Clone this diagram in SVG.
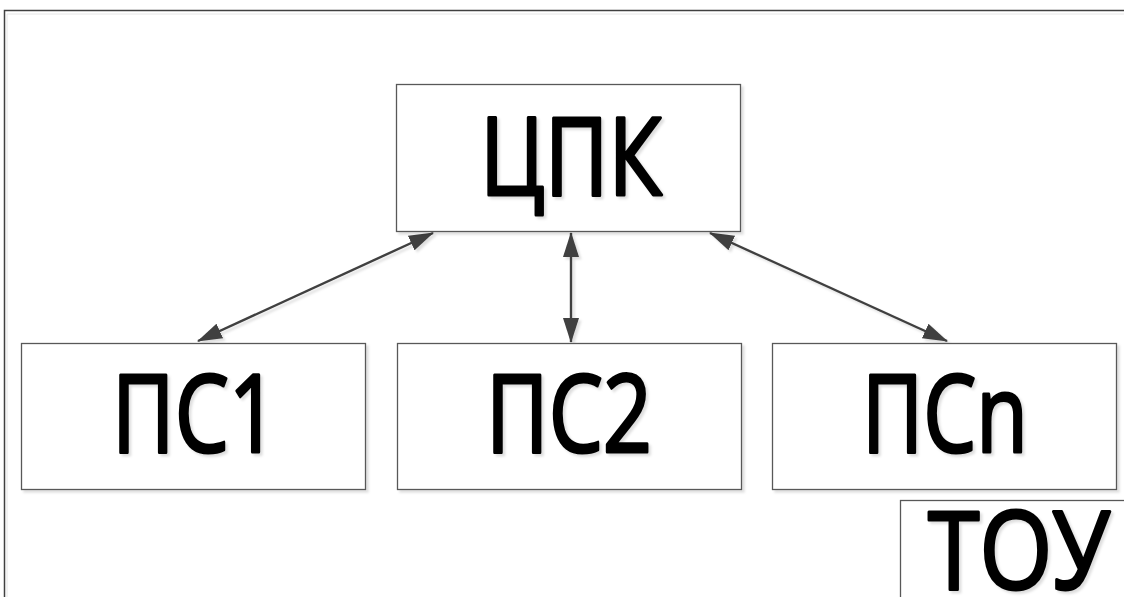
<svg xmlns="http://www.w3.org/2000/svg" width="1124" height="597" viewBox="0 0 1124 597">
  <style>
    .box { fill: #ffffff; stroke: #595959; stroke-width: 1.3; }
    .lbl { font-family: "Open Sans", "Liberation Sans", sans-serif; font-size: 108px; fill: #000000; stroke: #000000; stroke-width: 3; stroke-linejoin: round; text-anchor: middle; }
    .link { stroke: #404040; stroke-width: 2.4; fill: none; marker-start: url(#head); marker-end: url(#head); }
  </style>
  <defs>
    <filter id="soft" x="-10%" y="-10%" width="130%" height="130%">
      <feDropShadow dx="2.5" dy="2.5" stdDeviation="1" flood-color="#000000" flood-opacity="0.13"/>
    </filter>
    <marker id="head" viewBox="0 0 25 16" refX="24" refY="8" markerWidth="25" markerHeight="16" markerUnits="userSpaceOnUse" orient="auto-start-reverse">
      <path d="M0,0 L25,8 L0,16 Z" fill="#404040"/>
    </marker>
  </defs>

  <rect width="1124" height="597" fill="#ffffff"/>

  <!-- outer sheet frame -->
  <g id="frame">
    <path d="M4.5,597 V10.5 H1124" fill="none" stroke="#404040" stroke-width="1.5"/>
    <path d="M7,597 V14 H1124" fill="none" stroke="#e6e6e6" stroke-width="1"/>
  </g>

  <!-- connectors -->
  <g id="connectors" filter="url(#soft)">
    <line class="link" x1="198" y1="341" x2="433" y2="233"/>
    <line class="link" x1="571" y1="342" x2="571" y2="233"/>
    <line class="link" x1="947" y1="341" x2="710" y2="233"/>
  </g>

  <g id="cpk">
    <rect class="box" x="396.5" y="84.5" width="344" height="147" filter="url(#soft)"/>
    <text class="lbl" x="571" y="195" textLength="182" lengthAdjust="spacingAndGlyphs" filter="url(#soft)">ЦПК</text>
  </g>

  <g id="ps1">
    <rect class="box" x="21.5" y="343.5" width="344" height="146" filter="url(#soft)"/>
    <text class="lbl" x="195" y="452" textLength="166" lengthAdjust="spacingAndGlyphs" filter="url(#soft)">ПС1</text>
  </g>

  <g id="ps2">
    <rect class="box" x="397.5" y="343.5" width="344" height="146" filter="url(#soft)"/>
    <text class="lbl" x="569" y="452" textLength="166" lengthAdjust="spacingAndGlyphs" filter="url(#soft)">ПС2</text>
  </g>

  <g id="psn">
    <rect class="box" x="772.5" y="343.5" width="344" height="146" filter="url(#soft)"/>
    <text class="lbl" x="945" y="452" textLength="166" lengthAdjust="spacingAndGlyphs" filter="url(#soft)">ПСn</text>
  </g>

  <g id="tou">
    <rect class="box" x="900.5" y="500.5" width="240" height="120" filter="url(#soft)"/>
    <text class="lbl" x="1019" y="589" textLength="182" lengthAdjust="spacingAndGlyphs" filter="url(#soft)">ТОУ</text>
  </g>
</svg>
